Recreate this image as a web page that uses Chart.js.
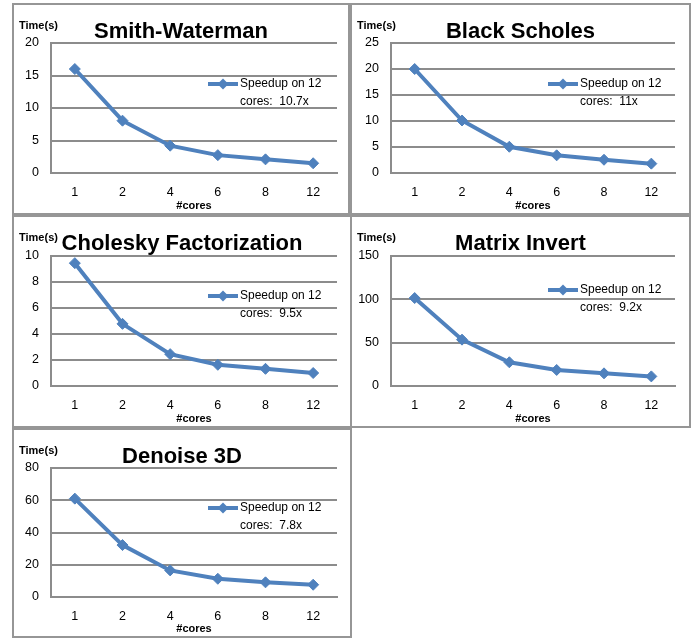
<!DOCTYPE html>
<html>
<head>
<meta charset="utf-8">
<script src="https://cdn.jsdelivr.net/npm/chart.js@4.4.0/dist/chart.umd.min.js"></script>
<style>
  body { margin: 0; background: #fff; }
  .box { position: absolute; border: 2px solid #969696; box-sizing: border-box; background: #fff; }
  .box canvas { position: absolute; left: 0; top: 0; }
</style>
</head>
<body>
<div id="wrap"></div>
<script>
// data
const cores = ["1", "2", "4", "6", "8", "12"];
const titles = ["Smith-Waterman", "Black Scholes", "Cholesky Factorization", "Matrix Invert", "Denoise 3D"];
const smithWaterman = [16.0, 8.05, 4.2, 2.75, 2.1, 1.5];
const blackScholes = [20.0, 10.1, 5.05, 3.4, 2.55, 1.8];
const cholesky = [9.45, 4.78, 2.45, 1.63, 1.32, 1.0];
const matrixInvert = [101.5, 53.5, 27.4, 18.5, 14.6, 11.1];
const denoise3d = [61, 32.2, 16.5, 11.3, 9.1, 7.6];
const speedups = ["10.7x", "11x", "9.5x", "9.2x", "7.8x"];
const yMax = [20, 25, 10, 150, 80];
const yStep = [5, 5, 2, 50, 20];

const series = [smithWaterman, blackScholes, cholesky, matrixInvert, denoise3d];

// panel boxes and plot areas (page coords)
const boxes = [
  { x: 12, y: 3, w: 338, h: 212, pl: 51, pr: 337, pt: 43, pb: 173, ly: 41 },
  { x: 350, y: 3, w: 341, h: 212, pl: 391, pr: 675, pt: 43, pb: 173, ly: 41 },
  { x: 12, y: 215, w: 340, h: 213, pl: 51, pr: 337, pt: 256, pb: 386, ly: 40 },
  { x: 350, y: 215, w: 341, h: 213, pl: 391, pr: 675, pt: 256, pb: 386, ly: 34 },
  { x: 12, y: 428, w: 340, h: 210, pl: 51, pr: 337, pt: 468, pb: 597, ly: 40 }
];

const blue = "#4F81BD";
const grey = "#8c8c8c";
const tickFont = { family: "Liberation Sans, Arial, sans-serif", size: 12.5 };

const panelText = {
  id: "panelText",
  afterDraw(chart, args, opts) {
    const ctx = chart.ctx;
    const area = chart.chartArea;
    ctx.save();
    ctx.fillStyle = "#000";
    // big title
    ctx.font = "bold 22px 'Liberation Sans', Arial, sans-serif";
    ctx.textAlign = "center";
    ctx.textBaseline = "middle";
    ctx.fillText(opts.title, chart.width / 2, 27);
    // y axis caption
    ctx.font = "bold 11px 'Liberation Sans', Arial, sans-serif";
    ctx.textAlign = "left";
    ctx.fillText("Time(s)", 5, 21);
    // legend
    const lx = area.left + 157, ly = area.top + opts.legendY;
    ctx.strokeStyle = blue;
    ctx.lineWidth = 4;
    ctx.beginPath();
    ctx.moveTo(lx, ly);
    ctx.lineTo(lx + 30, ly);
    ctx.stroke();
    ctx.fillStyle = blue;
    ctx.beginPath();
    ctx.moveTo(lx + 15, ly - 5.5);
    ctx.lineTo(lx + 20.5, ly);
    ctx.lineTo(lx + 15, ly + 5.5);
    ctx.lineTo(lx + 9.5, ly);
    ctx.closePath();
    ctx.fill();
    ctx.fillStyle = "#000";
    ctx.font = "12px 'Liberation Sans', Arial, sans-serif";
    ctx.fillText("Speedup on 12", lx + 32, ly);
    ctx.fillText("cores:  " + opts.speedup, lx + 32, ly + 17.5);
    ctx.restore();
  }
};

const wrap = document.getElementById("wrap");

boxes.forEach((b, i) => {
  const div = document.createElement("div");
  div.className = "box";
  div.style.left = b.x + "px";
  div.style.top = b.y + "px";
  div.style.width = b.w + "px";
  div.style.height = b.h + "px";
  const cw = b.w - 4, ch = b.h - 4;
  const cx = b.x + 2, cy = b.y + 2;
  const canvas = document.createElement("canvas");
  canvas.width = cw;
  canvas.height = ch;
  canvas.style.width = cw + "px";
  canvas.style.height = ch + "px";
  div.appendChild(canvas);
  wrap.appendChild(div);

  const yWidth = b.pl - cx;
  const xHeight = cy + ch - b.pb;

  new Chart(canvas.getContext("2d"), {
    type: "line",
    data: {
      labels: cores,
      datasets: [{
        label: "Speedup on 12 cores: " + speedups[i],
        data: series[i],
        borderColor: blue,
        backgroundColor: blue,
        borderWidth: 4,
        pointStyle: "rectRot",
        pointRadius: 5.5,
        pointBorderWidth: 1,
        tension: 0,
        clip: false
      }]
    },
    options: {
      responsive: false,
      animation: false,
      layout: { padding: { top: b.pt - cy, right: cx + cw - b.pr, left: 0, bottom: 0 } },
      plugins: {
        legend: { display: false },
        tooltip: { enabled: false },
        panelText: { title: titles[i], speedup: speedups[i], legendY: b.ly }
      },
      scales: {
        x: {
          offset: true,
          grid: { display: false, drawTicks: false },
          border: { display: true, color: grey, width: 2 },
          ticks: { color: "#000", font: tickFont, padding: 12 },
          title: {
            display: true,
            text: "#cores",
            color: "#000",
            font: { family: "Liberation Sans, Arial, sans-serif", size: 11, weight: "bold" },
            padding: { top: 0, bottom: 0 }
          },
          afterFit(scale) { scale.height = xHeight; }
        },
        y: {
          min: 0,
          max: yMax[i],
          grid: { color: grey, lineWidth: 2, drawTicks: false },
          border: { display: true, color: grey, width: 2 },
          ticks: { stepSize: yStep[i], color: "#000", font: tickFont, padding: 12 },
          afterFit(scale) { scale.width = yWidth; }
        }
      }
    },
    plugins: [panelText]
  });
});
</script>
</body>
</html>
